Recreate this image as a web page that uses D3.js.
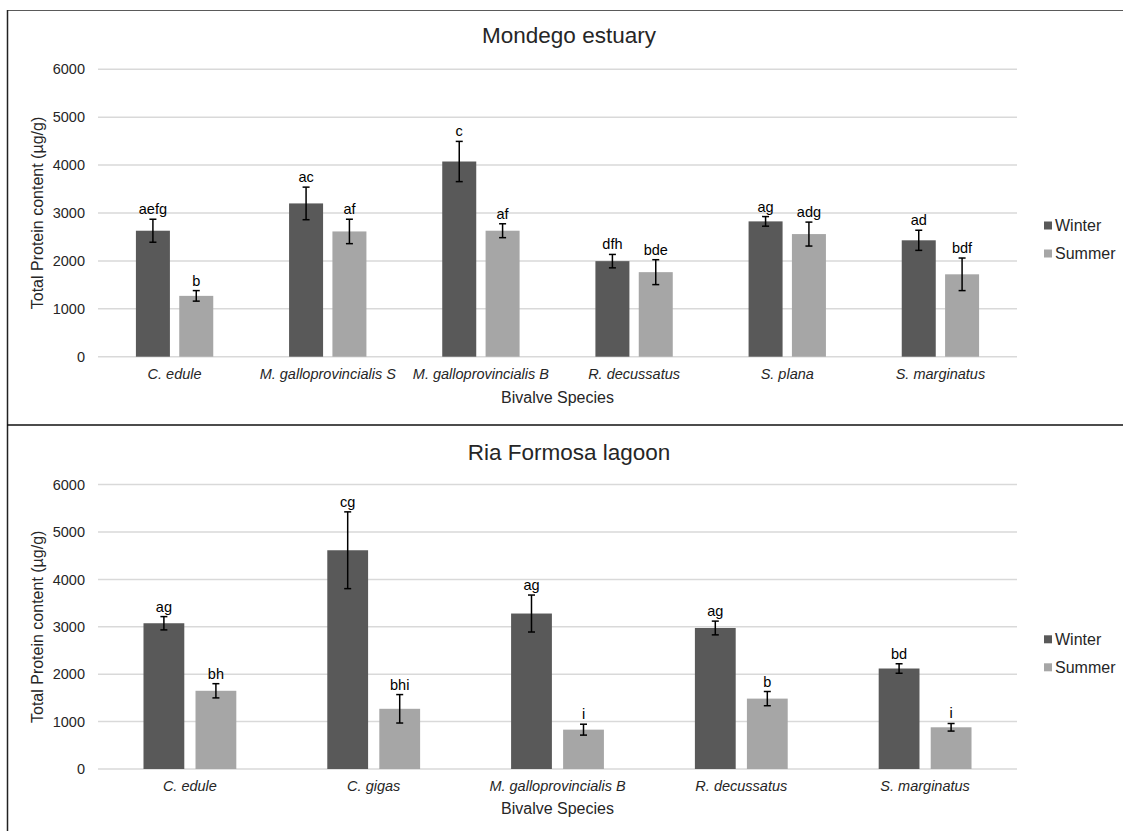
<!DOCTYPE html>
<meta charset="utf-8">
<style>

body {
  margin: 0;
  background: #fff;
  font-family: "Liberation Sans", Arial, sans-serif;
}

.grid line {
  stroke: #d9d9d9;
  stroke-width: 1.5px;
}

.err {
  stroke: #000;
  stroke-width: 1.5px;
}

</style>
<body>
<script src="https://cdn.jsdelivr.net/npm/d3@7"></script>
<script>

var width = 1123;

var height = 831;

var seasons = ["Winter", "Summer"];

var seasonColors = ["#595959", "#a6a6a6"];

var yTicks = [0, 1000, 2000, 3000, 4000, 5000, 6000];

// Mondego estuary
var mondegoSpecies = ["C. edule", "M. galloprovincialis S", "M. galloprovincialis B", "R. decussatus", "S. plana", "S. marginatus"];
var mondegoWinter = [2630, 3200, 4075, 1995, 2825, 2430];
var mondegoWinterErr = [240, 340, 420, 140, 100, 210];
var mondegoSummer = [1270, 2615, 2630, 1765, 2560, 1720];
var mondegoSummerErr = [110, 255, 145, 260, 250, 340];
var mondegoWinterLetters = ["aefg", "ac", "c", "dfh", "ag", "ad"];
var mondegoSummerLetters = ["b", "af", "af", "bde", "adg", "bdf"];

// Ria Formosa lagoon
var riaSpecies = ["C. edule", "C. gigas", "M. galloprovincialis B", "R. decussatus", "S. marginatus"];
var riaWinter = [3075, 4615, 3280, 2975, 2120];
var riaWinterErr = [140, 810, 390, 145, 100];
var riaSummer = [1650, 1270, 830, 1485, 880];
var riaSummerErr = [150, 300, 115, 150, 80];
var riaWinterLetters = ["ag", "cg", "ag", "ag", "bd"];
var riaSummerLetters = ["bh", "bhi", "i", "b", "i"];

var svg = d3.select("body").append("svg")
    .attr("width", width)
    .attr("height", height);

// frame lines
svg.append("line")
    .attr("x1", 7).attr("x2", width).attr("y1", 10.5).attr("y2", 10.5)
    .attr("stroke", "#5a5a5a").attr("stroke-width", 1.2);
svg.append("line")
    .attr("x1", 7.5).attr("x2", 7.5).attr("y1", 10).attr("y2", height)
    .attr("stroke", "#222").attr("stroke-width", 1.5);
svg.append("line")
    .attr("x1", 7).attr("x2", width).attr("y1", 425).attr("y2", 425)
    .attr("stroke", "#111").attr("stroke-width", 1.6);

function drawPanel(cfg) {

  var species = cfg.species;

  var rows = species.map((s, i) => ({
    name: s,
    values: [
      {season: "Winter", value: cfg.winter[i], err: cfg.winterErr[i], letter: cfg.winterLetters[i]},
      {season: "Summer", value: cfg.summer[i], err: cfg.summerErr[i], letter: cfg.summerLetters[i]}
    ]
  }));

  var x0 = d3.scaleBand()
      .domain(species)
      .range([98, 1017]);

  var band = x0.bandwidth();
  var bw = band * 0.222;
  var gap = band * 0.061;

  var x1 = d3.scaleBand()
      .domain(seasons)
      .range([-(bw + gap / 2), bw + gap / 2])
      .paddingInner(gap / (bw + gap));

  var yScale = d3.scaleLinear()
      .domain([0, 6000])
      .range([cfg.bottom, cfg.top]);

  var color = d3.scaleOrdinal()
      .domain(seasons)
      .range(seasonColors);

  var g = svg.append("g");

  // title
  g.append("text")
      .attr("x", 569)
      .attr("y", cfg.titleY)
      .attr("text-anchor", "middle")
      .style("font-size", "22.5px")
      .attr("fill", "#262626")
      .text(cfg.title);

  // gridlines
  g.append("g")
      .attr("class", "grid")
    .selectAll("line")
    .data(yTicks)
    .enter()
    .append("line")
      .attr("x1", 98)
      .attr("x2", 1017)
      .attr("y1", d => yScale(d))
      .attr("y2", d => yScale(d));

  var yAxis = d3.axisLeft(yScale)
      .tickValues(yTicks)
      .tickFormat(d3.format("d"))
      .tickSize(0)
      .tickPadding(13);

  var yg = g.append("g")
      .attr("transform", "translate(98,0)")
      .call(yAxis);
  yg.select(".domain").remove();
  yg.selectAll("text")
      .style("font-size", "14.5px")
      .style("font-family", "'Liberation Sans', Arial, sans-serif")
      .attr("fill", "#262626");

  var xAxis = d3.axisBottom(x0)
      .tickSize(0)
      .tickPadding(12);

  var xg = g.append("g")
      .attr("transform", `translate(0, ${cfg.bottom})`)
      .call(xAxis);
  xg.select(".domain").remove();
  xg.selectAll("text")
      .style("font-size", "14.5px")
      .style("font-style", "italic")
      .style("font-family", "'Liberation Sans', Arial, sans-serif")
      .attr("fill", "#262626");

  // axis titles
  g.append("text")
      .attr("x", 557.5)
      .attr("y", cfg.xTitleY)
      .attr("text-anchor", "middle")
      .style("font-size", "16px")
      .attr("fill", "#262626")
      .text("Bivalve Species");

  g.append("text")
      .attr("transform", `translate(43, ${(cfg.top + cfg.bottom) / 2}) rotate(-90)`)
      .attr("text-anchor", "middle")
      .style("font-size", "16px")
      .attr("fill", "#262626")
      .text("Total Protein content (µg/g)");

  // bars
  var groups = g.selectAll("g.species")
    .data(rows)
    .enter()
    .append("g")
      .attr("class", "species")
      .attr("transform", d => `translate(${x0(d.name) + band / 2}, 0)`);

  groups.selectAll("rect")
    .data(d => d.values)
    .enter()
    .append("rect")
      .attr("x", d => x1(d.season))
      .attr("width", x1.bandwidth())
      .attr("y", d => yScale(d.value))
      .attr("height", d => cfg.bottom - yScale(d.value))
      .attr("fill", d => color(d.season));

  // error bars
  var err = groups.selectAll("g.err")
    .data(d => d.values)
    .enter()
    .append("g")
      .attr("class", "err")
      .attr("transform", d => `translate(${x1(d.season) + x1.bandwidth() / 2}, 0)`);

  err.append("line")
      .attr("y1", d => yScale(d.value + d.err))
      .attr("y2", d => yScale(d.value - d.err));
  err.append("line")
      .attr("x1", -3.5).attr("x2", 3.5)
      .attr("y1", d => yScale(d.value + d.err))
      .attr("y2", d => yScale(d.value + d.err));
  err.append("line")
      .attr("x1", -3.5).attr("x2", 3.5)
      .attr("y1", d => yScale(d.value - d.err))
      .attr("y2", d => yScale(d.value - d.err));

  // letters
  groups.selectAll("text.letter")
    .data(d => d.values)
    .enter()
    .append("text")
      .attr("class", "letter")
      .attr("x", d => x1(d.season) + x1.bandwidth() / 2)
      .attr("y", d => yScale(d.value + d.err) - 5)
      .attr("text-anchor", "middle")
      .style("font-size", "14.5px")
      .attr("fill", "#000")
      .text(d => d.letter);

  // legend
  var midY = (cfg.top + cfg.bottom) / 2;
  var legend = g.selectAll("g.legend")
    .data(seasons)
    .enter()
    .append("g")
      .attr("class", "legend")
      .attr("transform", (d, i) => `translate(1044, ${midY + 12.5 + i * 28})`);

  legend.append("rect")
      .attr("x", 0)
      .attr("y", -4)
      .attr("width", 8)
      .attr("height", 8)
      .attr("fill", d => color(d));

  legend.append("text")
      .attr("x", 11)
      .attr("y", 0)
      .attr("dy", "0.35em")
      .style("font-size", "16px")
      .attr("fill", "#262626")
      .text(d => d);
}

drawPanel({
  title: "Mondego estuary",
  species: mondegoSpecies,
  winter: mondegoWinter, winterErr: mondegoWinterErr, winterLetters: mondegoWinterLetters,
  summer: mondegoSummer, summerErr: mondegoSummerErr, summerLetters: mondegoSummerLetters,
  top: 69.3, bottom: 356.7, titleY: 43, xTitleY: 403
});

drawPanel({
  title: "Ria Formosa lagoon",
  species: riaSpecies,
  winter: riaWinter, winterErr: riaWinterErr, winterLetters: riaWinterLetters,
  summer: riaSummer, summerErr: riaSummerErr, summerLetters: riaSummerLetters,
  top: 484.6, bottom: 769, titleY: 460, xTitleY: 814
});

</script>
